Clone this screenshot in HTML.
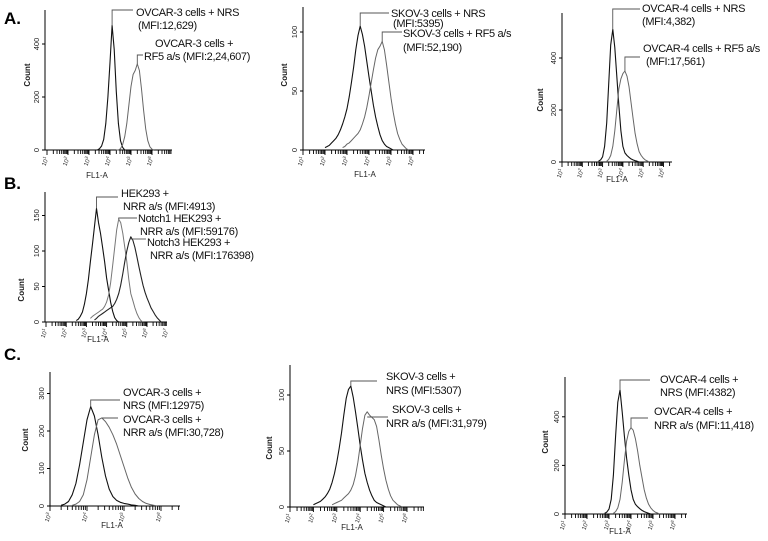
<!DOCTYPE html>
<html><head><meta charset="utf-8">
<style>
html,body{margin:0;padding:0;background:#fff;}
svg{display:block;font-family:"Liberation Sans",sans-serif;}
</style></head>
<body>
<svg id="chart" width="768" height="541" viewBox="0 0 768 541">
<text x="4" y="24" font-size="17" font-weight="bold">A.</text>
<text x="4" y="189" font-size="17" font-weight="bold">B.</text>
<text x="4" y="360" font-size="17" font-weight="bold">C.</text>
</svg>
<script>
// ---- data (counts sampled every 0.1 log10 decade, starting at given log) ----
const a1Ticks=[0,200,400];
const a1NrsStart=3.4;
const a1Nrs=[0,5,15,40,100,200,330,470,380,220,100,35,10,0];
const a1Rf5Start=4.3;
const a1Rf5=[0,0,5,20,50,100,170,240,285,300,325,300,230,150,80,35,12,3,0];
const a1Labels=["OVCAR-3 cells + NRS","(MFI:12,629)","OVCAR-3 cells +","RF5 a/s (MFI:2,24,607)"];

const a2Ticks=[0,50,100];
const a2NrsStart=2.0;
const a2Nrs=[2,3,4,6,8,10,13,17,22,28,35,45,57,70,85,97,105,98,88,75,62,50,38,28,20,13,8,5,3,2,1,0];
const a2Rf5Start=2.8;
const a2Rf5=[2,3,5,6,8,10,12,14,17,22,28,36,46,57,68,78,85,88,92,85,72,58,44,32,22,14,9,5,3,1,0];
const a2Labels=["SKOV-3 cells + NRS","(MFI:5395)","SKOV-3 cells + RF5 a/s","(MFI:52,190)"];

const a3Ticks=[0,200,400];
const a3NrsStart=2.8;
const a3Nrs=[3,8,20,60,150,300,450,510,440,330,220,120,60,35,25,18,12,8,5,3,0];
const a3Rf5Start=3.2;
const a3Rf5=[3,10,25,60,120,200,280,320,340,350,330,290,230,170,110,70,40,25,15,8,4,0];
const a3Labels=["OVCAR-4 cells + NRS","(MFI:4,382)","OVCAR-4 cells + RF5 a/s","(MFI:17,561)"];

const bTicks=[0,50,100,150];
const bHekStart=2.5;
const bHek=[2,4,8,14,25,40,60,85,110,135,160,140,125,105,85,62,45,28,15,6,2,0];
const bN1Start=3.2;
const bN1=[5,8,10,12,14,16,18,22,28,38,55,80,105,130,145,140,125,105,85,60,40,30,20,12,6,2,0];
const bN3Start=3.4;
const bN3=[3,5,8,10,12,14,16,18,20,22,26,32,40,52,68,85,100,112,120,115,105,92,78,65,52,42,34,27,20,15,10,6,3,0];
const bLabels=["HEK293 +","NRR a/s (MFI:4913)","Notch1 HEK293 +","NRR a/s  (MFI:59176)","Notch3 HEK293 +","NRR a/s  (MFI:176398)"];

const c1Ticks=[0,100,200,300];
const c1NrsStart=3.3;
const c1Nrs=[2,5,12,30,60,110,170,230,265,240,190,130,80,45,25,15,10,7,5,3,2,0];
const c1NrrStart=3.6;
const c1Nrr=[2,5,12,30,70,130,190,230,235,225,210,190,165,135,105,75,50,32,20,12,7,4,2,0];
const c1Labels=["OVCAR-3 cells +","NRS (MFI:12975)","OVCAR-3 cells +","NRR a/s (MFI:30,728)"];

const c2Ticks=[0,50,100];
const c2NrsStart=2.0;
const c2Nrs=[2,3,4,5,7,9,12,16,22,30,40,52,66,82,97,105,108,98,85,70,55,42,30,22,15,10,6,4,3,2,1,0];
const c2NrrStart=2.8;
const c2Nrr=[2,3,4,5,6,8,10,12,15,20,28,40,55,70,82,85,82,80,78,72,60,46,34,24,16,10,6,4,2,1,0];
const c2Labels=["SKOV-3 cells +","NRS  (MFI:5307)","SKOV-3 cells +","NRR a/s  (MFI:31,979)"];

const c3Ticks=[0,200,400];
const c3NrsStart=2.8;
const c3Nrs=[3,8,20,60,160,320,460,510,420,320,230,160,100,60,40,30,22,15,10,6,3,0];
const c3NrrStart=3.2;
const c3Nrr=[3,10,25,60,130,220,300,340,355,345,310,260,200,150,100,65,40,25,15,8,4,0];
const c3Labels=["OVCAR-4 cells +","NRS (MFI:4382)","OVCAR-4 cells +","NRR a/s (MFI:11,418)"];

// ---- drawing ----
const NS='http://www.w3.org/2000/svg';
const svg=document.getElementById('chart');
function mk(tag,attrs,parent){const e=document.createElementNS(NS,tag);for(const k in attrs)e.setAttribute(k,attrs[k]);(parent||svg).appendChild(e);return e;}

const panels=[
 {id:'a1',axisX:45,x0:47,logMin:1,dec:21,xEnd:172,base:150,top:10,scale:0.265,ticks:a1Ticks,decs:[1,2,3,4,5,6],fl:[97,178],cnt:[30,75],
  series:[{start:a1NrsStart,vals:a1Nrs,c:'#111',w:1.1,n:'nrs'},{start:a1Rf5Start,vals:a1Rf5,c:'#666',w:1,n:'rf5'}],
  notes:[{s:0,ly:10,lx:133,t:[[136,16,a1Labels[0]],[138,29,a1Labels[1]]]},{s:1,ly:55,lx:143,t:[[155,47,a1Labels[2]],[144,60,a1Labels[3]]]}]},
 {id:'a2',axisX:303,x0:303,logMin:1,dec:22,xEnd:425,base:150,top:7,scale:1.18,ticks:a2Ticks,decs:[1,2,3,4,5,6],fl:[365,177],cnt:[287,75],
  series:[{start:a2NrsStart,vals:a2Nrs,c:'#111',w:1.1,n:'nrs'},{start:a2Rf5Start,vals:a2Rf5,c:'#666',w:1,n:'rf5'}],
  notes:[{s:0,ly:13,lx:389,t:[[391,17,a2Labels[0]],[393,27,a2Labels[1]]]},{s:1,ly:32,lx:402,t:[[403,37,a2Labels[2]],[403,51,a2Labels[3]]]}]},
 {id:'a3',axisX:562,x0:562,logMin:1,dec:20.3,xEnd:672,base:162,top:13,scale:0.26,ticks:a3Ticks,decs:[1,2,3,4,5,6],fl:[617,182],cnt:[543,100],
  series:[{start:a3NrsStart,vals:a3Nrs,c:'#111',w:1.1,n:'nrs'},{start:a3Rf5Start,vals:a3Rf5,c:'#666',w:1,n:'rf5'}],
  notes:[{s:0,ly:9,lx:640,t:[[642,12,a3Labels[0]],[642,25,a3Labels[1]]]},{s:1,ly:57,lx:640,t:[[643,52,a3Labels[2]],[646,65,a3Labels[3]]]}]},
 {id:'b',axisX:45,x0:46,logMin:1,dec:20.2,xEnd:167,base:322,top:192,scale:0.71,ticks:bTicks,decs:[1,2,3,4,5,6,7],fl:[98,342],cnt:[24,290],
  series:[{start:bHekStart,vals:bHek,c:'#111',w:1.1,n:'hek293'},{start:bN1Start,vals:bN1,c:'#777',w:1,n:'notch1'},{start:bN3Start,vals:bN3,c:'#222',w:1.1,n:'notch3'}],
  notes:[{s:0,ly:197,lx:118,t:[[121,197,bLabels[0]],[123,210,bLabels[1]]]},{s:1,ly:218,lx:137,t:[[138,222,bLabels[2]],[140,235,bLabels[3]]]},{s:2,ly:239,lx:146,t:[[147,246,bLabels[4]],[150,259,bLabels[5]]]}]},
 {id:'c1',axisX:50,x0:50,logMin:3,dec:37,xEnd:180,base:506,top:372,scale:0.375,ticks:c1Ticks,decs:[3,4,5,6],fl:[112,528],cnt:[28,440],
  series:[{start:c1NrsStart,vals:c1Nrs,c:'#111',w:1.1,n:'nrs'},{start:c1NrrStart,vals:c1Nrr,c:'#666',w:1,n:'nrr'}],
  notes:[{s:0,ly:400,lx:120,t:[[123,396,c1Labels[0]],[123,409,c1Labels[1]]]},{s:1,ly:418,lx:118,t:[[123,423,c1Labels[2]],[123,436,c1Labels[3]]]}]},
 {id:'c2',axisX:290,x0:290,logMin:1,dec:23.4,xEnd:424,base:507,top:365,scale:1.12,ticks:c2Ticks,decs:[1,2,3,4,5,6],fl:[352,530],cnt:[272,448],
  series:[{start:c2NrsStart,vals:c2Nrs,c:'#111',w:1.1,n:'nrs'},{start:c2NrrStart,vals:c2Nrr,c:'#666',w:1,n:'nrr'}],
  notes:[{s:0,ly:381,lx:377,t:[[386,380,c2Labels[0]],[386,394,c2Labels[1]]]},{s:1,ly:417,lx:388,t:[[392,413,c2Labels[2]],[386,427,c2Labels[3]]]}]},
 {id:'c3',axisX:565,x0:565,logMin:1,dec:22,xEnd:687,base:514,top:377,scale:0.243,ticks:c3Ticks,decs:[1,2,3,4,5,6],fl:[620,534],cnt:[548,442],
  series:[{start:c3NrsStart,vals:c3Nrs,c:'#111',w:1.1,n:'nrs'},{start:c3NrrStart,vals:c3Nrr,c:'#666',w:1,n:'nrr'}],
  notes:[{s:0,ly:380,lx:650,t:[[660,383,c3Labels[0]],[660,396,c3Labels[1]]]},{s:1,ly:418,lx:648,t:[[654,415,c3Labels[2]],[654,429,c3Labels[3]]]}]}
];

panels.forEach(p=>{
  const g=mk('g',{});
  
  
  const px=l=>p.x0+(l-p.logMin)*p.dec;
  const py=v=>p.base-v*p.scale;
  const ya=mk('line',{x1:p.axisX,y1:p.top,x2:p.axisX,y2:p.base,stroke:'#000','stroke-width':1},g);
  
  
  const xa=mk('line',{x1:p.axisX,y1:p.base,x2:p.xEnd,y2:p.base,stroke:'#000','stroke-width':1},g);
  
  
  p.ticks.forEach(t=>{
    const y=py(t);
    mk('line',{x1:p.axisX-3,y1:y,x2:p.axisX,y2:y,stroke:'#000'},g);
    const tl=mk('text',{x:p.axisX-6,y:y,'font-size':7.5,'text-anchor':'middle',transform:`rotate(-90 ${p.axisX-6} ${y})`,fill:'#222'},g);
    tl.textContent=t;
    
    
  });
  const lMax=p.logMin+(p.xEnd-p.x0)/p.dec;
  for(let d=p.logMin;d<lMax;d++){
    for(let k=1;k<=9;k++){
      const l=d+Math.log10(k);
      if(l>lMax) break;
      const x=px(l);
      mk('line',{x1:x,y1:p.base,x2:x,y2:p.base+(k===1?5:4),stroke:'#000','stroke-width':0.9},g);
    }
  }
  p.decs.forEach(d=>{
    const x=px(d), y=p.base+12;
    const tl=mk('text',{x:x,y:y,'font-size':6,'text-anchor':'middle',transform:`rotate(-70 ${x} ${y})`,fill:'#333'},g);
    tl.textContent='10';
    const sp=mk('tspan',{dy:-2.5,'font-size':4.5},tl);
    sp.textContent=d;
    
    
  });
  const fl=mk('text',{x:p.fl[0],y:p.fl[1],'font-size':8,'text-anchor':'middle',fill:'#222'},g);
  fl.textContent='FL1-A';
  
  
  const ct=mk('text',{x:p.cnt[0],y:p.cnt[1],'font-size':8,'text-anchor':'middle',transform:`rotate(-90 ${p.cnt[0]} ${p.cnt[1]})`,fill:'#222','font-weight':'bold'},g);
  ct.textContent='Count';
  
  
  const peaks=[];
  p.series.forEach(s=>{
    let pts=[], mi=0;
    s.vals.forEach((v,i)=>{pts.push(px(s.start+i*0.1).toFixed(1)+','+py(v).toFixed(1)); if(v>s.vals[mi])mi=i;});
    peaks.push([px(s.start+mi*0.1),py(s.vals[mi])]);
    const pl=mk('polyline',{points:pts.join(' '),fill:'none',stroke:s.c,'stroke-width':s.w,'stroke-linejoin':'round'},g);
    
    
  });
  p.notes.forEach(n=>{
    const [x,y]=peaks[n.s];
    let d=`M${x},${y} `;
    if(n.ly<y) d+=`L${x},${n.ly} `; else d=`M${x},${n.ly} `;
    d+=`L${n.lx},${n.ly}`;
    const lp=mk('path',{d:d,fill:'none',stroke:'#555','stroke-width':0.9},g);
    
    
    n.t.forEach(tt=>{
      const te=mk('text',{x:tt[0],y:tt[1],'font-size':11,'letter-spacing':-0.35,fill:'#111'},g);
      te.textContent=tt[2];
      
      
    });
  });
});
</script>
</body></html>
